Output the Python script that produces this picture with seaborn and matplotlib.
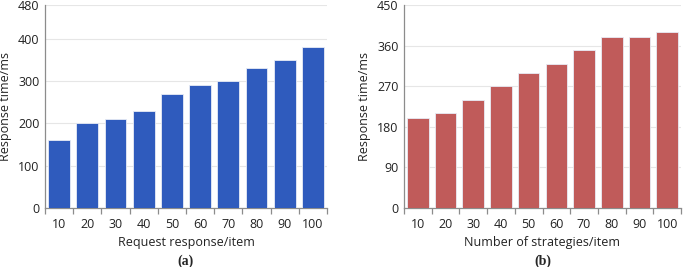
import numpy as np
import pandas as pd
import seaborn as sns
import matplotlib.pyplot as plt
from matplotlib.ticker import FixedLocator

# data
categories = ["10", "20", "30", "40", "50", "60", "70", "80", "90", "100"]
request_times = [160, 200, 210, 230, 270, 290, 300, 330, 350, 380]
strategy_times = [200, 210, 240, 270, 300, 320, 350, 380, 380, 390]
request_yticks = [0, 100, 200, 300, 400, 480]
strategy_yticks = [0, 90, 180, 270, 360, 450]

BLUE = "#2F5BBD"
RED = "#C05B5A"

sns.set_theme(style="white")
plt.rcParams["font.family"] = ["Open Sans", "DejaVu Sans"]
plt.rcParams["font.size"] = 8

fig = plt.figure(figsize=(6.85, 2.67), dpi=100)
W, H = 685, 267
ax_a = fig.add_axes([45 / W, 1 - 208 / H, (327 - 45) / W, (208 - 5) / H])
ax_b = fig.add_axes([404 / W, 1 - 208 / H, (681 - 404) / W, (208 - 5) / H])

panels = [
    (ax_a, request_times, BLUE, request_yticks, "Request response/item", "(a)"),
    (ax_b, strategy_times, RED, strategy_yticks, "Number of strategies/item", "(b)"),
]

for ax, vals, color, yticks, xlabel, tag in panels:
    df = pd.DataFrame({"cat": categories, "val": vals})
    sns.barplot(data=df, x="cat", y="val", color=color, saturation=1,
                width=0.78, edgecolor="#E8ECF5", linewidth=0.6, ax=ax, zorder=3)
    ax.set_xlim(-0.5, len(categories) - 0.5)
    ax.set_ylim(0, yticks[-1])
    ax.set_yticks(yticks)
    ax.yaxis.grid(True, color="#E6E6E6", linewidth=0.8, zorder=0)
    ax.set_axisbelow(True)
    for side in ["top", "right"]:
        ax.spines[side].set_visible(False)
    for side in ["left", "bottom"]:
        ax.spines[side].set_color("#8C8C8C")
        ax.spines[side].set_linewidth(0.9)
    ax.tick_params(axis="y", length=0, labelsize=9, pad=4, colors="#222222")
    ax.tick_params(axis="x", which="major", length=0, labelsize=9, pad=7, colors="#222222")
    ax.xaxis.set_minor_locator(FixedLocator(np.arange(-0.5, len(categories), 1.0)))
    ax.tick_params(axis="x", which="minor", length=4, width=0.9, color="#8C8C8C", bottom=True)
    ax.set_xlabel(xlabel, fontsize=9, labelpad=4, color="#222222")
    ax.set_ylabel("Response time/ms", fontsize=9, labelpad=4, color="#222222")
    ax.text(0.5, -0.262, tag, transform=ax.transAxes, ha="center", va="center",
            fontsize=10, fontweight="bold", family=["Liberation Serif", "DejaVu Serif"])

fig.savefig("out.png", dpi=100)
